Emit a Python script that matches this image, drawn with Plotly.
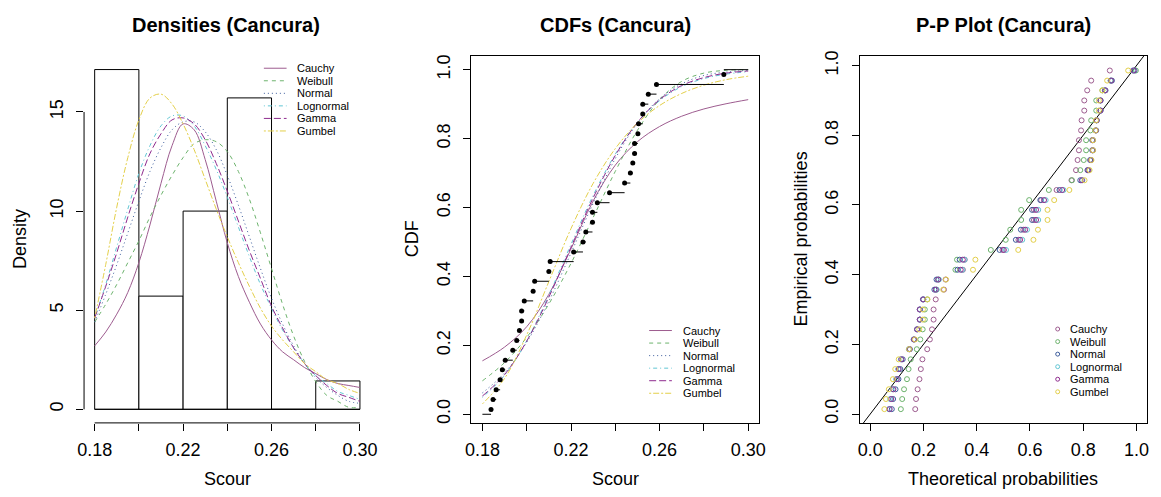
import plotly.graph_objects as go

# ---------------- data ----------------
scour = [0.1839, 0.1848, 0.1862, 0.1880, 0.1890, 0.1903, 0.1937, 0.1955, 0.1967, 0.1977, 0.1977, 0.1989,
         0.2029, 0.2036, 0.2100, 0.2106, 0.2212, 0.2254, 0.2267, 0.2297, 0.2297, 0.2319, 0.2374,
         0.2442, 0.2468, 0.2479, 0.2487, 0.2487, 0.2502, 0.2505, 0.2524, 0.2524, 0.2549, 0.2586, 0.2890]
hist_edges = [0.18, 0.20, 0.22, 0.24, 0.26, 0.28, 0.30]
hist_density = [17.14, 5.71, 10.0, 15.71, 0.0, 1.43]
dist_names = ["Cauchy", "Weibull", "Normal", "Lognormal", "Gamma", "Gumbel"]

dens_x = [0.180, 0.185, 0.190, 0.195, 0.200, 0.205, 0.210, 0.215, 0.220, 0.225, 0.230, 0.235, 0.240,
          0.245, 0.250, 0.255, 0.260, 0.265, 0.270, 0.275, 0.280, 0.285, 0.290, 0.295, 0.300]
dens_cauchy = [3.2, 3.9, 4.8, 5.9, 7.4, 9.3, 11.4, 13.3, 14.4, 14.1, 12.6, 10.5, 8.4, 6.7, 5.4, 4.3, 3.5, 2.9, 2.5, 2.1, 1.8, 1.5, 1.3, 1.2, 1.1]
dens_weibull = [4.4, 5.3, 6.3, 7.4, 8.5, 9.7, 10.8, 11.8, 12.7, 13.4, 13.6, 13.5, 13.0, 12.0, 10.6, 8.9, 7.1, 5.3, 3.7, 2.4, 1.4, 0.7, 0.4, 0.1, 0.1]
dens_normal = [4.4, 5.8, 7.3, 8.9, 10.5, 12.0, 13.2, 14.1, 14.5, 14.5, 14.0, 13.1, 11.8, 10.3, 8.7, 7.1, 5.6, 4.3, 3.2, 2.3, 1.6, 1.1, 0.7, 0.4, 0.3]
dens_lognormal = [4.6, 6.3, 8.2, 10.1, 11.9, 13.3, 14.3, 14.8, 14.8, 14.3, 13.3, 12.1, 10.7, 9.2, 7.7, 6.3, 5.1, 4.0, 3.1, 2.3, 1.7, 1.3, 0.9, 0.7, 0.5]
dens_gamma = [4.6, 6.2, 7.9, 9.7, 11.4, 12.9, 13.9, 14.6, 14.7, 14.4, 13.6, 12.4, 11.0, 9.5, 8.0, 6.6, 5.2, 4.1, 3.1, 2.3, 1.7, 1.2, 0.8, 0.6, 0.4]
dens_gumbel = [4.6, 7.3, 10.2, 12.7, 14.6, 15.7, 15.9, 15.4, 14.4, 13.1, 11.6, 10.1, 8.7, 7.4, 6.2, 5.1, 4.2, 3.5, 2.9, 2.3, 1.9, 1.5, 1.3, 1.0, 0.8]

cdf_x = [0.18, 0.19, 0.20, 0.21, 0.22, 0.23, 0.24, 0.25, 0.26, 0.27, 0.28, 0.29, 0.30]
cdf_cauchy = [0.155, 0.195, 0.254, 0.348, 0.480, 0.619, 0.723, 0.791, 0.835, 0.865, 0.886, 0.901, 0.913]
cdf_weibull = [0.097, 0.150, 0.223, 0.320, 0.438, 0.571, 0.705, 0.824, 0.913, 0.966, 0.990, 0.998, 1.000]
cdf_normal = [0.062, 0.120, 0.209, 0.328, 0.468, 0.612, 0.742, 0.845, 0.916, 0.959, 0.983, 0.993, 0.998]
cdf_lognormal = [0.049, 0.113, 0.213, 0.346, 0.493, 0.635, 0.755, 0.847, 0.910, 0.951, 0.974, 0.987, 0.994]
cdf_gamma = [0.053, 0.115, 0.212, 0.340, 0.485, 0.628, 0.751, 0.847, 0.913, 0.954, 0.977, 0.990, 0.996]
cdf_gumbel = [0.030, 0.104, 0.230, 0.385, 0.539, 0.670, 0.771, 0.845, 0.896, 0.931, 0.955, 0.971, 0.981]

# empirical probabilities (plotting positions) of the 35 observations
emp_prob = [0.014, 0.043, 0.071, 0.100, 0.129, 0.157, 0.186, 0.214, 0.243, 0.271, 0.300, 0.329,
            0.357, 0.386, 0.414, 0.443, 0.471, 0.500, 0.529, 0.557, 0.586, 0.614, 0.643,
            0.671, 0.700, 0.729, 0.757, 0.786, 0.814, 0.843, 0.871, 0.900, 0.929, 0.957, 0.986]
theo_cauchy = [0.169, 0.172, 0.178, 0.185, 0.190, 0.196, 0.214, 0.224, 0.232, 0.238, 0.238, 0.246, 0.277, 0.283, 0.348, 0.355, 0.497, 0.557, 0.575, 0.615, 0.615, 0.642, 0.700, 0.756, 0.773, 0.779, 0.784, 0.784, 0.792, 0.794, 0.804, 0.804, 0.815, 0.830, 0.900]
theo_weibull = [0.115, 0.120, 0.127, 0.138, 0.144, 0.152, 0.175, 0.188, 0.197, 0.205, 0.205, 0.214, 0.249, 0.256, 0.320, 0.326, 0.453, 0.509, 0.526, 0.567, 0.567, 0.597, 0.671, 0.758, 0.789, 0.802, 0.811, 0.811, 0.827, 0.830, 0.849, 0.849, 0.872, 0.903, 0.998]
theo_normal = [0.081, 0.086, 0.095, 0.106, 0.113, 0.122, 0.149, 0.165, 0.176, 0.186, 0.186, 0.198, 0.241, 0.249, 0.328, 0.336, 0.486, 0.547, 0.566, 0.608, 0.608, 0.639, 0.711, 0.789, 0.816, 0.826, 0.834, 0.834, 0.847, 0.850, 0.865, 0.865, 0.884, 0.908, 0.993]
theo_lognormal = [0.070, 0.075, 0.084, 0.097, 0.105, 0.115, 0.145, 0.163, 0.176, 0.187, 0.187, 0.200, 0.249, 0.258, 0.346, 0.354, 0.510, 0.571, 0.589, 0.631, 0.631, 0.659, 0.726, 0.797, 0.821, 0.830, 0.837, 0.837, 0.849, 0.851, 0.865, 0.865, 0.881, 0.903, 0.986]
theo_gamma = [0.073, 0.079, 0.087, 0.100, 0.107, 0.117, 0.147, 0.164, 0.176, 0.186, 0.186, 0.199, 0.246, 0.255, 0.340, 0.348, 0.502, 0.563, 0.582, 0.623, 0.623, 0.653, 0.721, 0.795, 0.819, 0.829, 0.836, 0.836, 0.848, 0.851, 0.865, 0.865, 0.882, 0.905, 0.989]
theo_gumbel = [0.053, 0.059, 0.070, 0.085, 0.094, 0.107, 0.146, 0.168, 0.184, 0.198, 0.198, 0.215, 0.274, 0.285, 0.386, 0.395, 0.556, 0.613, 0.630, 0.666, 0.666, 0.691, 0.748, 0.805, 0.824, 0.831, 0.837, 0.837, 0.846, 0.848, 0.859, 0.859, 0.872, 0.890, 0.969]

x_ticks = [0.18, 0.20, 0.22, 0.24, 0.26, 0.28, 0.30]
x_tick_text = ["0.18", "", "0.22", "", "0.26", "", "0.30"]
dens_ticks = [0, 5, 10, 15]
p_ticks = [0, 0.2, 0.4, 0.6, 0.8, 1.0]
p_tick_text = ["0.0", "0.2", "0.4", "0.6", "0.8", "1.0"]
ref_line = [-0.1, 1.1]

# ---------------- styles ----------------
dist_colors = ["#9D5C8F", "#6DB36D", "#3C5C9C", "#62C6D4", "#8E2B8E", "#E3CF4A"]
dist_dash = ["solid", "4px,4px", "1px,3px", "1px,3px,4px,3px", "7px,3px", "2px,2px,6px,2px"]
dens_series = [dens_cauchy, dens_weibull, dens_normal, dens_lognormal, dens_gamma, dens_gumbel]
cdf_series = [cdf_cauchy, cdf_weibull, cdf_normal, cdf_lognormal, cdf_gamma, cdf_gumbel]
theo_series = [theo_cauchy, theo_weibull, theo_normal, theo_lognormal, theo_gamma, theo_gumbel]

W, H = 1161, 497
def fx(p): return p / W
def fy(p): return 1 - p / H

FONT = "Liberation Sans, Arial, sans-serif"
fig = go.Figure()

# histogram
centers = [(a + b) / 2 for a, b in zip(hist_edges[:-1], hist_edges[1:])]
widths = [b - a for a, b in zip(hist_edges[:-1], hist_edges[1:])]
fig.add_trace(go.Bar(x=centers, y=hist_density, width=widths, base=0,
                     marker=dict(color="white", line=dict(color="black", width=1)),
                     xaxis="x", yaxis="y", showlegend=False))
fig.add_trace(go.Scatter(x=[hist_edges[0], hist_edges[-1]], y=[0, 0], mode="lines",
                         line=dict(color="black", width=1), xaxis="x", yaxis="y", showlegend=False))
for ys, col, da in zip(dens_series, dist_colors, dist_dash):
    fig.add_trace(go.Scatter(x=dens_x, y=ys, mode="lines", xaxis="x", yaxis="y", showlegend=False,
                             line=dict(color=col, width=1, dash=da, shape="spline")))

# CDFs
for ys, col, da in zip(cdf_series, dist_colors, dist_dash):
    fig.add_trace(go.Scatter(x=cdf_x, y=ys, mode="lines", xaxis="x2", yaxis="y2", showlegend=False,
                             line=dict(color=col, width=1, dash=da, shape="spline")))
n = len(scour)
sx, sy = [x_ticks[0], scour[0], None], [0, 0, None]
for i in range(n - 1):
    sx += [scour[i], scour[i + 1], None]
    sy += [emp_prob[i], emp_prob[i], None]
sx += [scour[-1], x_ticks[-1]]
sy += [1, 1]
fig.add_trace(go.Scatter(x=sx, y=sy, mode="lines", line=dict(color="black", width=1),
                         xaxis="x2", yaxis="y2", showlegend=False))
fig.add_trace(go.Scatter(x=scour, y=emp_prob, mode="markers", marker=dict(color="black", size=5),
                         xaxis="x2", yaxis="y2", showlegend=False))

# P-P plot
fig.add_trace(go.Scatter(x=ref_line, y=ref_line, mode="lines", line=dict(color="black", width=1),
                         xaxis="x3", yaxis="y3", showlegend=False))
for xs, col in zip(theo_series, dist_colors):
    fig.add_trace(go.Scatter(x=xs, y=emp_prob, mode="markers", xaxis="x3", yaxis="y3", showlegend=False,
                             marker=dict(symbol="circle-open", size=5, color=col, line=dict(width=1, color=col))))

tickfont = dict(family=FONT, size=18, color="black")
common = dict(ticks="outside", ticklen=7, tickcolor="black", tickwidth=1, showgrid=False,
              zeroline=False, tickfont=tickfont)
box = dict(showline=True, mirror=True, linecolor="black", linewidth=1)
xstand = dict(ticklabelstandoff=4)
ystand = dict(ticklabelstandoff=6, tickangle=-90)
ydom = [fy(423), fy(51.5)]
fig.update_layout(
    width=W, height=H, margin=dict(l=0, r=0, t=0, b=0),
    paper_bgcolor="white", plot_bgcolor="white", showlegend=False,
    xaxis=dict(domain=[fx(78), fx(368)], range=[0.1752, 0.3048], tickvals=x_ticks, ticktext=x_tick_text,
               anchor="y", showline=False, **xstand, **common),
    yaxis=dict(domain=ydom, range=[-0.686, 17.83], tickvals=dens_ticks,
               anchor="x", showline=False, **ystand, **common),
    xaxis2=dict(domain=[fx(470), fx(761)], range=[0.1750, 0.3048], tickvals=x_ticks, ticktext=x_tick_text,
                anchor="y2", **box, **xstand, **common),
    yaxis2=dict(domain=ydom, range=[-0.025, 1.04], tickvals=p_ticks, ticktext=p_tick_text,
                anchor="x2", **box, **ystand, **common),
    xaxis3=dict(domain=[fx(863), fx(1154)], range=[-0.04, 1.04], tickvals=p_ticks, ticktext=p_tick_text,
                anchor="y3", **box, **xstand, **common),
    yaxis3=dict(domain=ydom, range=[-0.0255, 1.028], tickvals=p_ticks, ticktext=p_tick_text,
                anchor="x3", **box, **ystand, **common),
)
shapes = [
    dict(type="line", xref="x", yref="y domain", x0=x_ticks[0], x1=x_ticks[-1], y0=0, y1=0,
         line=dict(color="black", width=1)),
    dict(type="line", xref="x domain", yref="y", x0=0, x1=0, y0=dens_ticks[0], y1=dens_ticks[-1],
         line=dict(color="black", width=1)),
]
ann = []
def text(px, py, s, size=18, bold=False, angle=0, xanchor="center"):
    ann.append(dict(x=fx(px), y=fy(py), xref="paper", yref="paper", text=("<b>%s</b>" % s) if bold else s,
                    showarrow=False, textangle=angle, xanchor=xanchor, yanchor="middle",
                    font=dict(family=FONT, size=size, color="black")))
text(222, 20, "Densities (Cancura)", 20, True)
text(615.5, 20, "CDFs (Cancura)", 20, True)
text(1008.5, 20, "P-P Plot (Cancura)", 20, True)
text(223, 480, "Scour")
text(615.5, 480, "Scour")
text(1008.5, 480, "Theoretical probabilities")
text(13, 237, "Density", angle=-90)
text(410, 237, "CDF", angle=-90)
text(804, 237, "Empirical probabilities", angle=-90)

LEG = 11
LEG_DY = 12.7
def line_legend(x0, x1, tx, y0):
    for k, (nm, col, da) in enumerate(zip(dist_names, dist_colors, dist_dash)):
        yy = y0 + k * LEG_DY
        shapes.append(dict(type="line", xref="paper", yref="paper", x0=fx(x0), x1=fx(x1), y0=fy(yy), y1=fy(yy),
                           line=dict(color=col, width=1, dash=da)))
        text(tx, yy, nm, LEG, xanchor="left")
line_legend(260, 283, 292, 64)
line_legend(650, 673, 682, 329.5)
for k, (nm, col) in enumerate(zip(dist_names, dist_colors)):
    yy = 328 + k * LEG_DY
    shapes.append(dict(type="circle", xref="paper", yref="paper", x0=fx(1061.5), x1=fx(1065.5),
                       y0=fy(yy + 2), y1=fy(yy - 2), line=dict(color=col, width=1)))
    text(1074, yy, nm, LEG, xanchor="left")
fig.update_layout(shapes=shapes, annotations=ann)
fig.write_html("out.html")
